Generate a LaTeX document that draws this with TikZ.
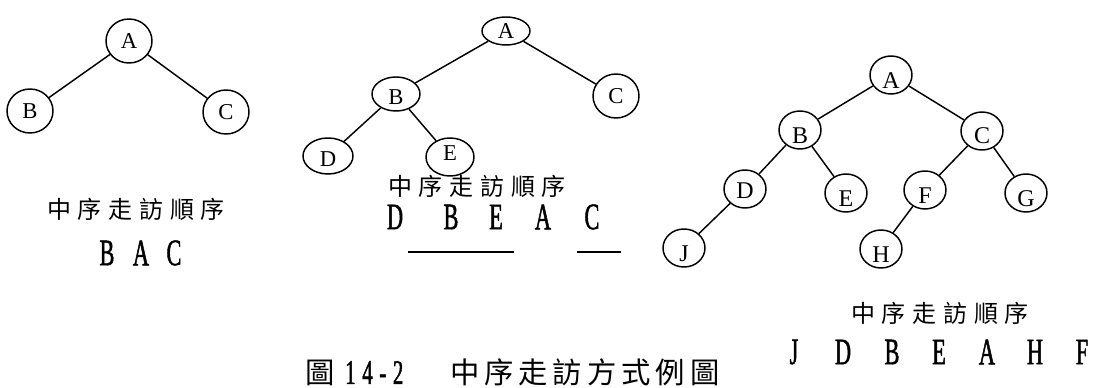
\documentclass[tikz,border=0pt]{standalone}
\usepackage{fontspec}
\setmainfont{Liberation Serif}
\newfontfamily\kaifont[LetterSpace=28]{Noto Sans CJK TC}
\newfontfamily\capfont[LetterSpace=17]{Noto Sans CJK TC}
\newfontfamily\seqfont[FakeStretch=0.6, FakeBold=1.2]{Liberation Serif}
\usetikzlibrary{shapes.geometric}
\newcommand{\low}[2][4pt]{\raisebox{-#1}[\height][0pt]{#2}}

\begin{document}
\begin{tikzpicture}[x=0.75pt, y=-0.75pt,
    vert/.style={ellipse, draw, line width=1.1pt, inner sep=0pt,
        minimum width=34.5pt, minimum height=33pt,
        font=\fontsize{17}{17}\selectfont},
    small/.style={minimum width=31.5pt, minimum height=28.5pt,
        font=\fontsize{18}{18}\selectfont},
    vsize/.style 2 args={minimum width=#1*0.75pt, minimum height=#2*0.75pt},
    edge/.style={line width=1.1pt},
    order/.style={font=\kaifont\fontsize{18}{18}\selectfont, inner sep=0pt},
    seq/.style={font=\seqfont\fontsize{28}{28}\selectfont, inner sep=0pt},
]
\useasboundingbox (0,0) rectangle (1097,388);

% Tree 1
\node[vert] (a1) at (129,41) {A};
\node[vert] (b1) at (30,111) {B};
\node[vert] (c1) at (226,112) {C};
\draw[edge] (a1) -- (b1);
\draw[edge] (a1) -- (c1);
\node[order] (t1) at (136,209) {中序走訪順序};
\foreach \c/\x [count=\i] in {B/107, A/141, C/174} {
    \node[seq] (s1\i) at (\x,253) {\c};
}

% Tree 2
\node[vert, vsize={48}{28}] (a2) at (506,31) {A};
\node[vert, vsize={48}{34}] (b2) at (396,94) {\low[2pt]{B}};
\node[vert, vsize={46}{44}] (c2) at (616,96) {C};
\node[vert, vsize={50}{36}] (d2) at (328,156) {\low[2pt]{D}};
\node[vert, vsize={48}{38}] (e2) at (450,157) {\low[-3pt]{E}};
\draw[edge] (a2) -- (b2);
\draw[edge] (a2) -- (c2);
\draw[edge] (b2) -- (d2);
\draw[edge] (b2) -- (e2);
\node[order] (t2) at (477,186) {中序走訪順序};
\foreach \c/\x [count=\i] in {D/395, B/451, E/496, A/543, C/592} {
    \node[seq] (s2\i) at (\x,217) {\c};
}
\draw[edge] (408,252) -- (514,252);
\draw[edge] (577,252) -- (621,252);

% Tree 3 (letters sit low in their circles)
\node[vert, small] (a3) at (891,75) {\low[4.5pt]{A}};
\node[vert, small] (b3) at (800,130) {\low[4.5pt]{B}};
\node[vert, small] (c3) at (982,131) {\low[3.5pt]{C}};
\node[vert, small] (d3) at (745,189) {\low[1.5pt]{D}};
\node[vert, small] (e3) at (846,193) {\low{E}};
\node[vert, small] (f3) at (925,190) {\low{F}};
\node[vert, small] (g3) at (1026,193) {\low{G}};
\node[vert, small] (j3) at (684,248) {\low{J}};
\node[vert, small] (h3) at (881,249) {\low{H}};
\draw[edge] (a3) -- (b3);
\draw[edge] (a3) -- (c3);
\draw[edge] (b3) -- (d3);
\draw[edge] (b3) -- (e3);
\draw[edge] (c3) -- (f3);
\draw[edge] (c3) -- (g3);
\draw[edge] (d3) -- (j3);
\draw[edge] (f3) -- (h3);
\node[order] (t3) at (940,313) {中序走訪順序};
\foreach \c/\x [count=\i] in {J/794, D/843, B/892, E/939, A/987, H/1035, F/1082} {
    \node[seq] (s3\i) at (\x,352) {\c};
}

% Caption
\node[inner sep=0pt, anchor=base west] (cap) at (305,384)
    {{\capfont\fontsize{22}{22}\selectfont 圖}\hspace{8pt}%
     {\seqfont\fontsize{26}{26}\selectfont 1\hspace{5pt}4\hspace{5pt}-\hspace{5pt}2}\hspace{35pt}%
     {\capfont\fontsize{22}{22}\selectfont 中序走訪方式例圖}};

\end{tikzpicture}
\end{document}
